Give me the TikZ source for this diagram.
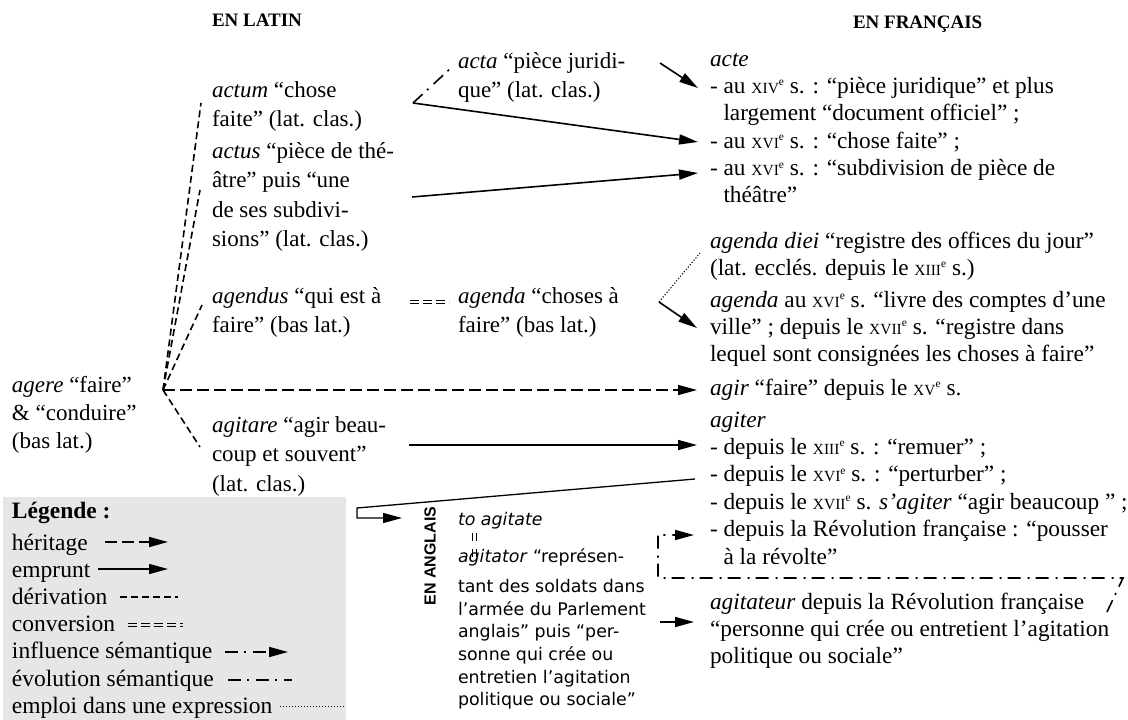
\documentclass[tikz,border=0pt]{standalone}
\usepackage{fontspec}
\usetikzlibrary{arrows.meta}
\newfontfamily\tms{Liberation Serif}
\newfontfamily\vsans{DejaVu Sans}
\newfontfamily\asans{Liberation Sans}
\definecolor{legendgray}{RGB}{230,230,230}
\newcommand\sie[1]{{\fontsize{15.5}{15.5}\selectfont #1}\raisebox{7.5pt}{\fontsize{11.5}{11.5}\selectfont e}}
\newcommand\ind{\hspace*{13.5pt}}
\begin{document}
\begin{tikzpicture}[x=1pt,y=-1pt,
  every node/.style={inner sep=0pt, outer sep=0pt},
  lat/.style={anchor=base west, font=\tms\fontsize{23}{29.5}\selectfont},
  fr/.style={anchor=base west, font=\tms\fontsize{23.3}{27.4}\selectfont},
  en/.style={anchor=base west, font=\vsans\fontsize{17.4}{22.6}\selectfont},
  tip/.style={-{Triangle[length=19pt,width=10pt]}},
  link/.style={line width=1.6pt},
  heritage/.style={link, dash pattern=on 12pt off 5pt},
  derivation/.style={link, dash pattern=on 7pt off 4pt},
  emprunt/.style={link},
  evolution/.style={link, dash pattern=on 13pt off 6pt on 2pt off 7pt},
  influence/.style={evolution, tip},
  emploi/.style={line width=1pt, dash pattern=on 1.2pt off 1.8pt},
  conversion/.style={line width=1.2pt, double distance=2.2pt, double=white, dash pattern=on 9pt off 4pt},
  eqbar/.style={line width=1.6pt, dash pattern=on 8pt off 8pt},
]
\useasboundingbox (0,0) rectangle (1128,720);
\fill[white] (0,0) rectangle (1128,720);

% headers
\node[anchor=base west, font=\tms\bfseries\fontsize{19}{19}\selectfont] (hlat) at (212,27) {EN LATIN};
\node[anchor=base west, font=\tms\bfseries\fontsize{19}{19}\selectfont] (hfr) at (853,28) {EN FRANÇAIS};

% Latin column
\node[lat, font=\tms\fontsize{23}{28}\selectfont] (agere) at (12,392) {\begin{tabular}[t]{@{}l@{}}\textit{agere} “faire”\\ \& “conduire”\\ (bas lat.)\end{tabular}};
\node[lat] (actum) at (212,97) {\begin{tabular}[t]{@{}l@{}}\textit{actum} “chose\\ faite” (lat. clas.)\end{tabular}};
\node[lat] (actus) at (212,158) {\begin{tabular}[t]{@{}l@{}}\textit{actus} “pièce de thé-\\ âtre” puis “une\\ de ses subdivi-\\ sions” (lat. clas.)\end{tabular}};
\node[lat] (agendus) at (212,303) {\begin{tabular}[t]{@{}l@{}}\textit{agendus} “qui est à\\ faire” (bas lat.)\end{tabular}};
\node[lat] (agitare) at (212,432) {\begin{tabular}[t]{@{}l@{}}\textit{agitare} “agir beau-\\ coup et souvent”\\ (lat. clas.)\end{tabular}};
\node[lat] (acta) at (458,68) {\begin{tabular}[t]{@{}l@{}}\textit{acta} “pièce juridi-\\ que” (lat. clas.)\end{tabular}};
\node[lat] (agenda) at (458,303) {\begin{tabular}[t]{@{}l@{}}\textit{agenda} “choses à\\ faire” (bas lat.)\end{tabular}};

% French column
\node[fr] (acte) at (710,66) {\begin{tabular}[t]{@{}l@{}}\textit{acte}\\
- au \sie{XIV} s. : “pièce juridique” et plus\\
\ind largement “document officiel” ;\\
- au \sie{XVI} s. : “chose faite” ;\\
- au \sie{XVI} s. : “subdivision de pièce de\\
\ind théâtre”\end{tabular}};
\node[fr] (diei) at (710,248) {\begin{tabular}[t]{@{}l@{}}\textit{agenda diei} “registre des offices du jour”\\
(lat. ecclés. depuis le \sie{XIII} s.)\end{tabular}};
\node[fr] (agendafr) at (710,307) {\begin{tabular}[t]{@{}l@{}}\textit{agenda} au \sie{XVI} s. “livre des comptes d’une\\
ville” ; depuis le \sie{XVII} s. “registre dans\\
lequel sont consignées les choses à faire”\end{tabular}};
\node[fr] (agir) at (710,395) {\textit{agir} “faire” depuis le \sie{XV} s.};
\node[fr] (agiter) at (710,427) {\begin{tabular}[t]{@{}l@{}}\textit{agiter}\\
- depuis le \sie{XIII} s. : “remuer” ;\\
- depuis le \sie{XVI} s. : “perturber” ;\\
- depuis le \sie{XVII} s. \textit{s’agiter} “agir beaucoup ” ;\\
- depuis la Révolution française : “pousser\\
\ind à la révolte”\end{tabular}};
\node[fr] (agitateur) at (710,609) {\begin{tabular}[t]{@{}l@{}}\textit{agitateur} depuis la Révolution française\\
“personne qui crée ou entretient l’agitation\\
politique ou sociale”\end{tabular}};

% English column
\node[rotate=90, font=\asans\bfseries\fontsize{16}{16}\selectfont] (anglais) at (430,556) {EN ANGLAIS};
\node[en] (toagitate) at (458,525) {\textit{to agitate}};
\node[en] (agitator) at (458,562) {\begin{tabular}[t]{@{}l@{}}\textit{agitator} “représen-\\[8pt]
tant des soldats dans\\ l’armée du Parlement\\ anglais” puis “per-\\ sonne qui crée ou\\ entretien l’agitation\\ politique ou sociale”\end{tabular}};

% legend
\fill[legendgray] (3,497) rectangle (346,720);
\node[anchor=base west, font=\tms\bfseries\fontsize{23.5}{23.5}\selectfont] (legtitle) at (12,518) {Légende :};
\node[anchor=base west, font=\tms\fontsize{23.5}{27.2}\selectfont] (legitems) at (12,550) {\begin{tabular}[t]{@{}l@{}}héritage\\ emprunt\\ dérivation\\ conversion\\ influence sémantique\\ évolution sémantique\\ emploi dans une expression\end{tabular}};
\coordinate (lh1) at (105,542); \coordinate (lh2) at (168,542);
\coordinate (le1) at (98,569);  \coordinate (le2) at (168,569);
\coordinate (ld1) at (120,597); \coordinate (ld2) at (178,597);
\coordinate (lc1) at (128,625); \coordinate (lc2) at (183,625);
\coordinate (li1) at (225,652); \coordinate (li2) at (288,652);
\coordinate (lv1) at (228,680); \coordinate (lv2) at (292,680);
\coordinate (lp1) at (280,706); \coordinate (lp2) at (345,706);
\draw[heritage, tip] (lh1) -- (lh2);
\draw[emprunt, tip] (le1) -- (le2);
\draw[derivation] (ld1) -- (ld2);
\draw[conversion, double=legendgray] (lc1) -- (lc2);
\draw[influence] (li1) -- (li2);
\draw[evolution] (lv1) -- (lv2);
\draw[emploi] (lp1) -- (lp2);

% connector coordinates
\coordinate (root) at (163,390);
\coordinate (dActum) at (201,103);
\coordinate (dActus) at (200,190);
\coordinate (dAgendus) at (202,305);
\coordinate (dAgitare) at (200,447);
\coordinate (agirTip) at (697,390);
\coordinate (actumR) at (413,103);
\coordinate (actaL) at (452,67);
\coordinate (actaR) at (660,63);
\coordinate (acteTip) at (698,88);
\coordinate (choseTip) at (698,142);
\coordinate (actusR) at (412,197);
\coordinate (subdivTip) at (698,173);
\coordinate (convA) at (410,302);
\coordinate (convB) at (449,302);
\coordinate (agendaR) at (659,302);
\coordinate (agendaTip) at (697,328);
\coordinate (dieiEnd) at (700,253);
\coordinate (agitareR) at (409,445);
\coordinate (remuerTip) at (697,445);
\coordinate (pertR) at (695,479);
\coordinate (bendA) at (357,508);
\coordinate (bendB) at (357,518);
\coordinate (angTip) at (402,518);
\coordinate (eqLtop) at (472.5,533);
\coordinate (eqLbot) at (472.5,557);
\coordinate (eqRtop) at (476.5,533);
\coordinate (eqRbot) at (476.5,557);
\coordinate (agitatorR) at (660,622);
\coordinate (agitateurTip) at (694,622);
\coordinate (agitateurR) at (1107,612);
\coordinate (inflA) at (1123,578);
\coordinate (inflB) at (658,578);
\coordinate (inflC) at (658,535);
\coordinate (revolTip) at (694,535);

% connectors
\draw[derivation] (root) -- (dActum);
\draw[derivation] (root) -- (dActus);
\draw[derivation] (root) -- (dAgendus);
\draw[derivation] (root) -- (dAgitare);
\draw[heritage, tip] (root) -- (agirTip);
\draw[evolution] (actumR) -- (actaL);
\draw[emprunt, tip] (actaR) -- (acteTip);
\draw[emprunt, tip] (actumR) -- (choseTip);
\draw[emprunt, tip] (actusR) -- (subdivTip);
\draw[conversion] (convA) -- (convB);
\draw[emprunt, tip] (agendaR) -- (agendaTip);
\draw[emploi] (agendaR) -- (dieiEnd);
\draw[emprunt, tip] (agitareR) -- (remuerTip);
\draw[emprunt, tip, line width=1.3pt] (pertR) -- (bendA) -- (bendB) -- (angTip);
\draw[eqbar] (eqLtop) -- (eqLbot);
\draw[eqbar] (eqRtop) -- (eqRbot);
\draw[emprunt, tip] (agitatorR) -- (agitateurTip);
\draw[influence] (agitateurR) -- (inflA) -- (inflB) -- (inflC) -- (revolTip);
\end{tikzpicture}
\end{document}
